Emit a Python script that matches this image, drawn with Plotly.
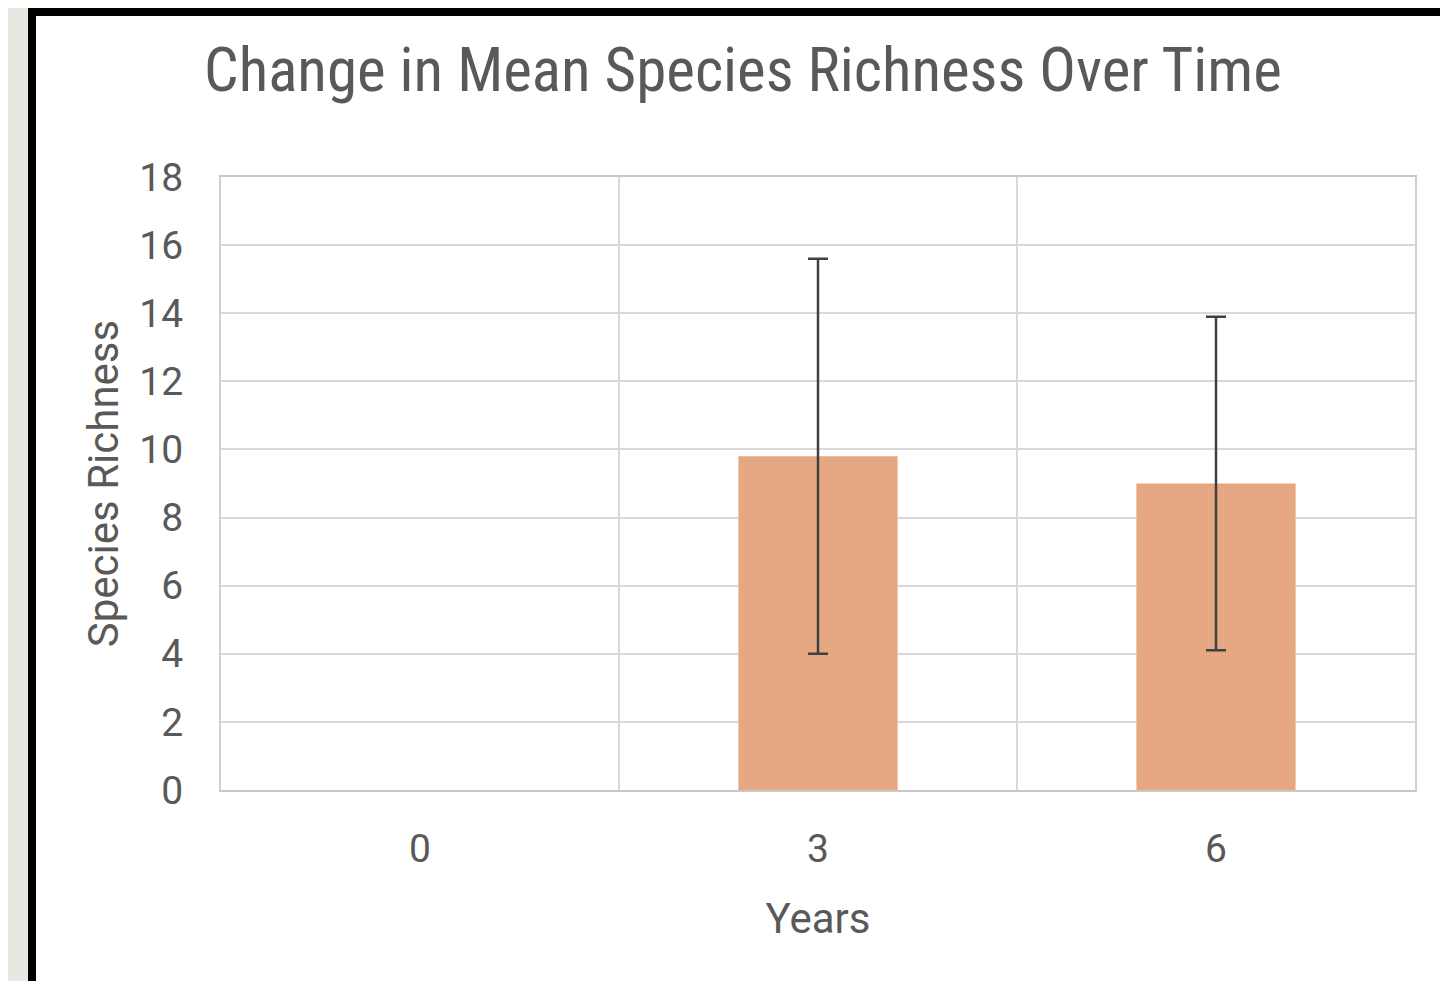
import plotly.graph_objects as go

# Data
years = ["0", "3", "6"]
mean_richness = [None, 9.8, 9.0]
error_sd = [None, 5.8, 4.9]
y_ticks = [0, 2, 4, 6, 8, 10, 12, 14, 16, 18]

OFF = 8  # browser body margin
W, H = 1448 - OFF, 981 - OFF
L, R, T, B = 221 - OFF, 1415 - OFF, 177 - OFF, 790 - OFF  # plot area in px

def px_x(p):
    return (p - OFF - L) / (R - L)

def px_y(p):
    return (B - (p - OFF)) / (B - T)

xpos = list(range(len(years)))

fig = go.Figure()
fig.add_trace(go.Bar(
    x=xpos,
    y=mean_richness,
    width=0.40,
    marker=dict(color="#E5A883", line=dict(width=0)),
    error_y=dict(type="data", array=error_sd, visible=True,
                 color="#404040", thickness=2.5, width=10),
    hoverinfo="skip",
))

grid = "#d9d9d9"
tickfont = dict(family="Roboto, Liberation Sans, sans-serif", size=39, color="#595959")

fig.update_layout(
    width=W, height=H,
    margin=dict(l=L, r=W - R, t=T, b=H - B, pad=0),
    paper_bgcolor="#e8e8e3",
    plot_bgcolor="white",
    showlegend=False,
    title=dict(
        text="Change in Mean Species Richness Over Time",
        font=dict(family="Liberation Sans Narrow, Roboto Condensed, Roboto, sans-serif",
                  size=61, color="#595959"),
        x=(743 - OFF) / W, xref="container", xanchor="center",
        y=1 - (70 - OFF) / H, yref="container", yanchor="middle",
    ),
    xaxis=dict(
        range=[-0.5, len(years) - 0.5],
        tickmode="array", tickvals=xpos, ticktext=years,
        tickfont=tickfont,
        showgrid=False,
        showline=True, linecolor="#c8c8c8", linewidth=2, mirror=True,
        ticks="", ticklabelstandoff=23,
        minor=dict(tickmode="array", tickvals=[0.5, 1.5], showgrid=True,
                   gridcolor=grid, gridwidth=2, ticks=""),
        zeroline=False,
        title=dict(text="Years", standoff=33,
                   font=dict(family="Roboto, Liberation Sans, sans-serif", size=42, color="#595959")),
        fixedrange=True,
    ),
    yaxis=dict(
        range=[0, 18],
        tickmode="array", tickvals=y_ticks,
        tickfont=tickfont,
        showgrid=True, gridcolor=grid, gridwidth=2,
        showline=True, linecolor="#d0d0d0", linewidth=2, mirror=True,
        ticks="", ticklabelstandoff=28,
        zeroline=False,
        title=dict(text="Species Richness", standoff=8,
                   font=dict(family="Roboto, Liberation Sans, sans-serif", size=42, color="#595959")),
        fixedrange=True,
    ),
    shapes=[
        dict(type="rect", xref="paper", yref="paper",
             x0=px_x(28), x1=px_x(1470), y0=px_y(8), y1=px_y(1010),
             fillcolor="black", line=dict(width=0), layer="below"),
        dict(type="rect", xref="paper", yref="paper",
             x0=px_x(36), x1=px_x(1443), y0=px_y(16), y1=px_y(1010),
             fillcolor="white", line=dict(width=0), layer="below"),
    ],
)

fig.write_html("out.html", config={"displayModeBar": False})
